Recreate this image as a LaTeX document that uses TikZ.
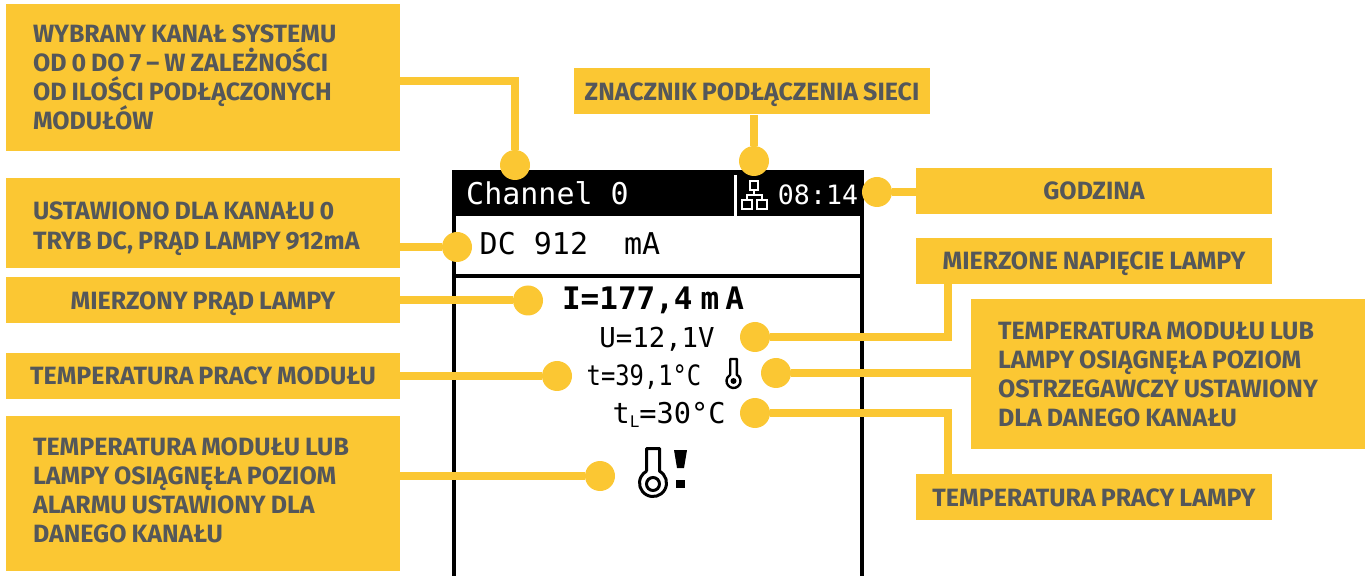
\documentclass[tikz,border=0pt]{standalone}
\usepackage{fontspec}
\setmainfont{Fira Sans}[BoldFont={Fira Sans Bold}]
\newfontfamily\lcdfont{DejaVu Sans Mono}
\usetikzlibrary{positioning}
\definecolor{boxyellow}{HTML}{FBC733}
\definecolor{boxtext}{HTML}{54575A}
\newcommand{\lcdsize}[1]{\fontsize{#1}{#1}\selectfont\lcdfont}
\newcommand{\boxfont}{\fontsize{12.5pt}{14.5pt}\selectfont\bfseries\spaceskip=0.2em\relax}
\newcommand{\tightlines}{\spaceskip=0.2em\relax\lineskiplimit=-6pt\relax}
\newcommand{\tailgap}[1]{\par\vspace{#1}}
\begin{document}
\begin{tikzpicture}[
    x=0.5pt, y=-0.5pt,
    infobox/.style={fill=boxyellow, minimum width=197pt, text width=170pt, align=left, inner xsep=13.5pt, inner ysep=0pt, text=boxtext, font=\boxfont, execute at begin node={\tightlines}},
    tagbox/.style={fill=boxyellow, minimum width=178pt, minimum height=23pt, text height=9pt, text depth=0pt, align=center, inner xsep=0pt, inner ysep=0pt, text=boxtext, font=\boxfont},
    widetag/.style={tagbox, minimum width=197pt},
    dot/.style={circle, fill=boxyellow, minimum size=15pt, inner sep=0pt},
    link/.style={draw=boxyellow, line width=4pt},
    lcd/.style={anchor=base, inner sep=0pt},
    icon/.style={draw=white, line width=1.2pt},
    lift/.style={execute at end node={\tailgap{#1}}}
]
    \useasboundingbox (0,0) rectangle (1368,576);

    \node[infobox, minimum height=73.5pt] (box1) at (203,77.5) {WYBRANY KANAŁ SYSTEMU\\OD 0 DO 7 – W ZALEŻNOŚCI\\OD ILOŚCI PODŁĄCZONYCH\\MODUŁÓW};
    \node[infobox, minimum height=45pt, lift=-6pt] (box2) at (203,223) {USTAWIONO DLA KANAŁU 0\\[0.5pt]TRYB DC, PRĄD LAMPY 912mA};
    \node[widetag] (box3) at (203,300.5) {MIERZONY PRĄD LAMPY};
    \node[widetag] (box4) at (203,376) {TEMPERATURA PRACY MODUŁU};
    \node[infobox, minimum height=77.5pt, lift=3.5pt] (box5) at (203,493.5) {TEMPERATURA MODUŁU LUB\\LAMPY OSIĄGNĘŁA POZIOM\\ALARMU USTAWIONY DLA\\DANEGO KANAŁU};
    \node[tagbox] (box6) at (752,91.5) {ZNACZNIK PODŁĄCZENIA SIECI};
    \node[tagbox] (box7) at (1094,191) {GODZINA};
    \node[tagbox] (box8) at (1094,261) {MIERZONE NAPIĘCIE LAMPY};
    \node[infobox, minimum height=75pt] (box9) at (1168,374) {TEMPERATURA MODUŁU LUB\\LAMPY OSIĄGNĘŁA POZIOM\\OSTRZEGAWCZY USTAWIONY\\DLA DANEGO KANAŁU};
    \node[tagbox] (box10) at (1094,497) {TEMPERATURA PRACY LAMPY};

    \fill (452,170) rectangle (864,216);
    \draw[line width=2pt] (454,216) -- (454,576);
    \draw[line width=2pt] (862,216) -- (862,576);
    \draw[line width=2pt] (454,276) -- (862,276);
    \draw[draw=white, line width=1.5pt] (735.5,175) -- (735.5,216);

    \node[lcd, text=white, font=\lcdsize{15pt}] (chan) at (547.5,205) {Channel 0};
    \node[lcd, text=white, font=\lcdsize{13.3pt}] (hour) at (818,205) {08:14};
    \node[lcd, font=\lcdsize{15pt}] (mode) at (570,255) {DC 912\ \ mA};
    \node[lcd, font=\lcdsize{15.5pt}\bfseries] (curr) at (653,310) {I=177,4\hspace{4pt}m\hspace{3pt}A};
    \node[lcd, font=\lcdsize{13.7pt}] (volt) at (657,348) {U=12,1V};
    \node[lcd, font=\lcdsize{14pt}] (tmod) at (644,386) {\scalebox{0.85}[1]{t=39,1°C}};
    \node[lcd, font=\lcdsize{14.3pt}] (tlamp) at (669,423) {t\raisebox{-2pt}{\fontsize{8pt}{8pt}\selectfont L}=30°C};

    \draw[icon] (750,181) rectangle (758,190);
    \draw[icon] (742,200) rectangle (752,209);
    \draw[icon] (757,200) rectangle (767,209);
    \draw[icon] (754,190) -- (754,195) (747,200) -- (747,195) -- (762,195) -- (762,200);

    \draw[line width=1.2pt, line join=round] (730.2,374.8) -- (730.2,359) -- (736.8,359) -- (736.8,374.8) arc (-62:242:7) -- cycle;
    \fill (733.5,381) circle (3);
    \draw[line width=1.5pt, line join=round] (646.5,471.2) -- (646.5,448.5) -- (659.5,448.5) -- (659.5,471.2) arc (-61.2:241.2:13.5) -- cycle;
    \draw[line width=1.5pt] (653,484) circle (6.5);
    \fill (674,450) -- (687,450) -- (684,468) -- (677,468) -- cycle;
    \fill (676,480) rectangle (685,488);

    \node[dot] (dot1) at (515,165) {};
    \node[dot] (dot2) at (457,247) {};
    \node[dot] (dot3) at (528,300.5) {};
    \node[dot] (dot4) at (557,376) {};
    \node[dot] (dot5) at (600,476) {};
    \node[dot] (dot6) at (754,161) {};
    \node[dot] (dot7) at (877,192) {};
    \node[dot] (dot8) at (755,337) {};
    \node[dot] (dot9) at (776,373) {};
    \node[dot] (dot10) at (755,413) {};

    \draw[link] ([yshift=-1.75pt]box1.east) -| (dot1);
    \draw[link] ([yshift=-12pt]box2.east) -- (dot2);
    \draw[link] (box3) -- (dot3);
    \draw[link] (box4) -- (dot4);
    \draw[link] ([yshift=8.75pt]box5.east) -- (dot5);
    \draw[link] (dot6) -- (dot6 |- box6.south);
    \draw[link] (dot7) -- (dot7 -| box7.west);
    \draw[link] (dot8) -| (box8.south -| 948,0);
    \draw[link] (dot9) -- (dot9 -| box9.west);
    \draw[link] (dot10) -| (box10.north -| 948,0);
\end{tikzpicture}
\end{document}
